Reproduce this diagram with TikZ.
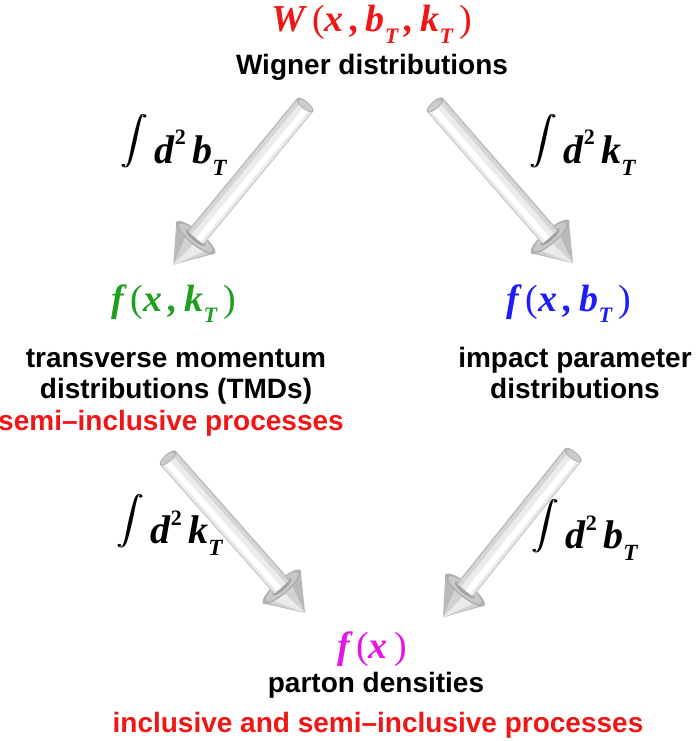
\documentclass[tikz,border=0pt]{standalone}
\usepackage{fontspec}
\usepackage{graphicx}
\setmainfont{Liberation Sans}
\newfontfamily\tnr{Liberation Serif}
\definecolor{fred}{RGB}{240,22,22}
\definecolor{fgreen}{RGB}{30,160,30}
\definecolor{fblue}{RGB}{30,30,250}
\definecolor{fmag}{RGB}{230,20,230}
\newcommand\mi[1]{{\tnr\bfseries\itshape #1}}
\newcommand\sbT{\raisebox{-0.3em}{\scalebox{0.58}{\mi{T}}}}
\newcommand\sqd{\raisebox{0.45em}{\scalebox{0.55}{\tnr\bfseries 2}}}
\newcommand\intg{\raisebox{7pt}{\scalebox{2.7}[2.4]{\rlap{$\displaystyle\int$}\kern0.35pt$\displaystyle\int$}}}
\newcommand\lpar{{\tnr\,(}}
\newcommand\rpar{{\tnr\,)}}
\tikzset{
  txt/.style={font=\fontsize{28}{31}\selectfont\bfseries, inner sep=0pt, anchor=base},
  mth/.style={font=\fontsize{38}{40}\selectfont, inner sep=0pt, anchor=base},
  lab/.style={font=\fontsize{40}{42}\selectfont, inner sep=0pt, anchor=base west},
  pics/tube/.style={code={
    \pgfmathsetmacro\cb{#1-35}
    % cone
    \fill[gray!55] (\cb,-25) -- (#1,0) -- (\cb,25) -- cycle;
    \fill[gray!35] (\cb,-10) -- (#1,0) -- (\cb,23) -- cycle;
    \fill[gray!16] (\cb,3) -- (#1,0) -- (\cb,18) -- cycle;
    % cone base
    \fill[gray!62] (\cb,0) ellipse [x radius=7, y radius=25];
    \fill[gray!42] (\cb,0) ellipse [x radius=5.5, y radius=21];
    \fill[gray!72] (\cb,0) ellipse [x radius=3.5, y radius=12.5];
    % shaft
    \fill[gray!52] (0,-10.5) rectangle (\cb,10.5);
    \fill[gray!32] (0,-9) rectangle (\cb,10);
    \fill[gray!15] (0,-5) rectangle (\cb,9);
    \fill[white]   (0,0.5) rectangle (\cb,6.5);
    % end cap
    \fill[gray!62] (0,0) ellipse [x radius=4, y radius=10.5];
    \fill[gray!40] (0,0.5) ellipse [x radius=3, y radius=8.5];
  }}
}
\begin{document}
\begin{tikzpicture}[x=1pt,y=-1pt]
\useasboundingbox (0,0) rectangle (697,741);
\clip (0,0) rectangle (697,741);

% coordinates of the arrows
\coordinate (a1s) at (305,105); \coordinate (a1t) at (173,265);
\coordinate (a2s) at (435,105); \coordinate (a2t) at (573,263);
\coordinate (a3s) at (168,458); \coordinate (a3t) at (305,613);
\coordinate (a4s) at (573,455); \coordinate (a4t) at (443,617);

\pic[rotate=230.5, yscale=-1] at (a1s) {tube=207};
\pic[rotate=-48.9] at (a2s) {tube=210};
\pic[rotate=-48.5] at (a3s) {tube=207};
\pic[rotate=231.3, yscale=-1] at (a4s) {tube=208};

% top
\node[mth, text=fred] (W) at (372,32) {\mi{W}\lpar\mi{x\,,\,b}\sbT\mi{\,,\,k}\sbT\rpar};
\node[txt] (Wd) at (372,75) {Wigner distributions};

% integration labels
\node[lab] (l1) at (120,163) {\intg\,\mi{d}\sqd\,\mi{b}\sbT};
\node[lab] (l2) at (529,163) {\intg\,\mi{d}\sqd\,\mi{k}\sbT};
\node[lab] (l3) at (116,543) {\intg\,\mi{d}\sqd\,\mi{k}\sbT};
\node[lab] (l4) at (531,548) {\intg\,\mi{d}\sqd\,\mi{b}\sbT};

% middle left
\node[mth, text=fgreen] (fk) at (174,311) {\mi{f}\lpar\mi{x\,,\,k}\sbT\rpar};
\node[txt] (t1) at (176,367) {transverse momentum};
\node[txt] (t2) at (176,398) {distributions (TMDs)};
\node[txt, text=fred] (t3) at (171,430) {semi–inclusive processes};

% middle right
\node[mth, text=fblue] (fb) at (569,311) {\mi{f}\lpar\mi{x\,,\,b}\sbT\rpar};
\node[txt] (i1) at (575,367) {impact parameter};
\node[txt] (i2) at (575,398) {distributions};

% bottom
\node[mth, text=fmag] (fx) at (372,658) {\mi{f}\lpar\mi{x}\rpar};
\node[txt] (p1) at (376,692) {parton densities};
\node[txt, text=fred] (p2) at (378,732) {inclusive and semi–inclusive processes};
\end{tikzpicture}
\end{document}
